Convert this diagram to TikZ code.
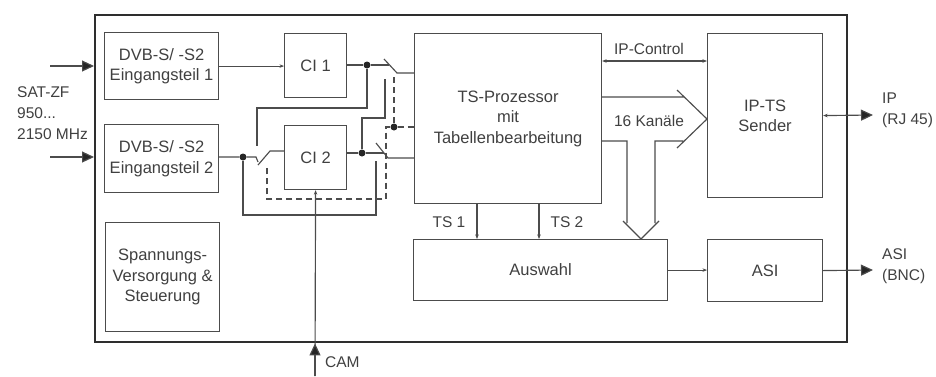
\documentclass[tikz,border=0pt]{standalone}
\usepackage{fontspec}
\setmainfont{Liberation Sans}
\usetikzlibrary{arrows.meta}
\definecolor{linec}{gray}{0.3}
\definecolor{textc}{gray}{0.25}
\begin{document}
\begin{tikzpicture}[x=1pt,y=-1pt,
  box/.style={draw=linec, line width=1.15pt, inner sep=0pt, align=center, anchor=north west, text=textc, font=\fontsize{16.5}{20.5}\selectfont},
  wire/.style={draw=linec, line width=1.15pt},
  dashwire/.style={wire, dash pattern=on 6pt off 4pt},
  sarrow/.style={wire, -{Stealth[length=4.5pt,width=3.5pt]}},
  darrow/.style={wire, {Stealth[length=4.5pt,width=3.5pt]}-{Stealth[length=4.5pt,width=3.5pt]}},
  bigarrow/.style={wire, -{Triangle[length=12pt,width=11pt,fill=black!85]}},
  lbl/.style={text=textc, inner sep=0pt, align=left, font=\fontsize{15.5}{21}\selectfont},
  dot/.style={circle, fill=black!85, inner sep=0pt, minimum size=7pt}
]
\useasboundingbox (0,0) rectangle (936,376);

% outer frame
\node[draw=black!82, line width=2.4pt, anchor=north west, minimum width=752pt, minimum height=327pt, inner sep=0pt] (outer) at (94,14) {};

% blocks
\node[box, minimum width=114pt, minimum height=67pt] (dvb1) at (104,32) {DVB-S/ -S2\\Eingangsteil 1};
\node[box, minimum width=114pt, minimum height=68pt] (dvb2) at (104,124) {DVB-S/ -S2\\Eingangsteil 2};
\node[box, minimum width=114pt, minimum height=109pt] (psu) at (105,222) {Spannungs-\\Versorgung \&\\Steuerung};
\node[box, minimum width=62pt, minimum height=64pt] (ci1) at (284,33) {CI 1};
\node[box, minimum width=62pt, minimum height=64pt] (ci2) at (284,125) {CI 2};
\node[box, minimum width=187pt, minimum height=170pt] (tsp) at (414,33) {TS-Prozessor\\mit\\Tabellenbearbeitung};
\node[box, minimum width=115pt, minimum height=164pt] (ipts) at (707,33) {IP-TS\\Sender};
\node[box, minimum width=254pt, minimum height=61pt] (ausw) at (413,239) {Auswahl};
\node[box, minimum width=115pt, minimum height=62pt] (asi) at (707,239) {ASI};

% inputs
\coordinate (in1) at (50,66);
\coordinate (in2) at (50,157);
\draw[bigarrow] (in1) -- (in1 -| outer.west);
\draw[bigarrow] (in2) -- (in2 -| outer.west);
\node[lbl, anchor=west] (satlbl) at (17,113) {SAT-ZF\\950...\\2150 MHz};

\draw[sarrow] (dvb1.east) -- (dvb1.east -| ci1.west);

% dots
\node[dot] (d0) at (243,157) {};
\node[dot] (d1) at (367,65) {};
\node[dot] (d2) at (362,153) {};
\node[dot] (d3) at (394,127) {};

% switch 0 (before CI 2)
\coordinate (s0a) at (256,157);
\coordinate (s0b) at (257,146);
\coordinate (s0t) at (258,165);
\coordinate (s0p) at (270,151);
\draw[wire] (d0 -| dvb2.east) -- (d0) -- (s0a) -- (258,162);
\draw[wire] (s0t) -- (s0p) -- (s0p -| ci2.west);

% switch 1 (CI 1 output)
\coordinate (s1a) at (389,65);
\coordinate (s1t) at (384,59);
\coordinate (s1p) at (397,73);
\coordinate (s1b) at (385,79);
\draw[wire] (ci1.east |- d1) -- (d1) -- (s1a);
\draw[wire] (s1t) -- (s1p) -- (s1p -| tsp.west);

% switch 2 (CI 2 output)
\coordinate (s2a) at (384,153);
\coordinate (s2t) at (376,143);
\coordinate (s2p) at (388,158);
\coordinate (s2b) at (376,161);
\draw[wire] (ci2.east |- d2) -- (d2) -- (s2a);
\draw[wire] (s2t) -- (s2p) -- (s2p -| tsp.west);

% cross connections
\draw[wire] (d1) -- (367,108) -- (257,108) -- (s0b);
\draw[wire] (d2) -- (362,118) -- (385,118) -- (s1b);
\draw[wire] (d0) -- (243,215) -- (376,215) -- (s2b);

% switch linkage (dashed)
\coordinate (k1) at (394,77);
\coordinate (k0) at (267,165);
\draw[dashwire] (k1) -- (d3) -- (d3 -| tsp.west);
\draw[dashwire] (d3) -- (386,127) -- (386,199) -- (267,199) -- (k0);

% CAM
\coordinate (cam) at (315,376);
\draw[sarrow] (cam) -- (ci2.south);
\draw[bigarrow] (cam) -- (cam |- outer.south);
\node[lbl, anchor=west] (camlbl) at (325,362) {CAM};

% IP-Control
\coordinate (ipc) at (650,61);
\draw[darrow] (ipc -| tsp.east) -- (ipc -| ipts.west);
\node[lbl] (ipclbl) at (649,49) {IP-Control};

% 16 channel wide arrow
\coordinate (wtip) at (707,119);
\coordinate (dtip) at (641,239);
\draw[wire, line join=miter]
  (tsp.east |- 0,97) -- (684,97)
  (677,90) -- (wtip) -- (677,148)
  (683,141) -- (655,141) -- (655,223)
  (627,223) -- (627,141) -- (tsp.east |- 0,141)
  (623,221) -- (dtip) -- (659,221);
\node[lbl] (kanlbl) at (649,121) {16 Kanäle};

% TS 1 / TS 2
\coordinate (ts1x) at (477,0);
\coordinate (ts2x) at (539,0);
\draw[sarrow] (tsp.south -| ts1x) -- (ausw.north -| ts1x);
\draw[sarrow] (tsp.south -| ts2x) -- (ausw.north -| ts2x);
\node[lbl] (ts1lbl) at (449,222) {TS 1};
\node[lbl] (ts2lbl) at (567,222) {TS 2};

% Auswahl -> ASI
\draw[sarrow] (ausw.east) -- (ausw.east -| asi.west);

% outputs
\coordinate (ipout) at (873,115);
\coordinate (asiout) at (873,270);
\draw[wire, {Stealth[length=4.5pt,width=3.5pt]}-{Triangle[length=12pt,width=11pt,fill=black!85]}] (ipts.east) -- (ipout);
\draw[bigarrow] (asi.east) -- (asiout);
\node[lbl, anchor=west] (iplbl) at (882,110) {IP\\(RJ 45)};
\node[lbl, anchor=west] (asilbl) at (882,266) {ASI\\(BNC)};
\end{tikzpicture}
\end{document}
